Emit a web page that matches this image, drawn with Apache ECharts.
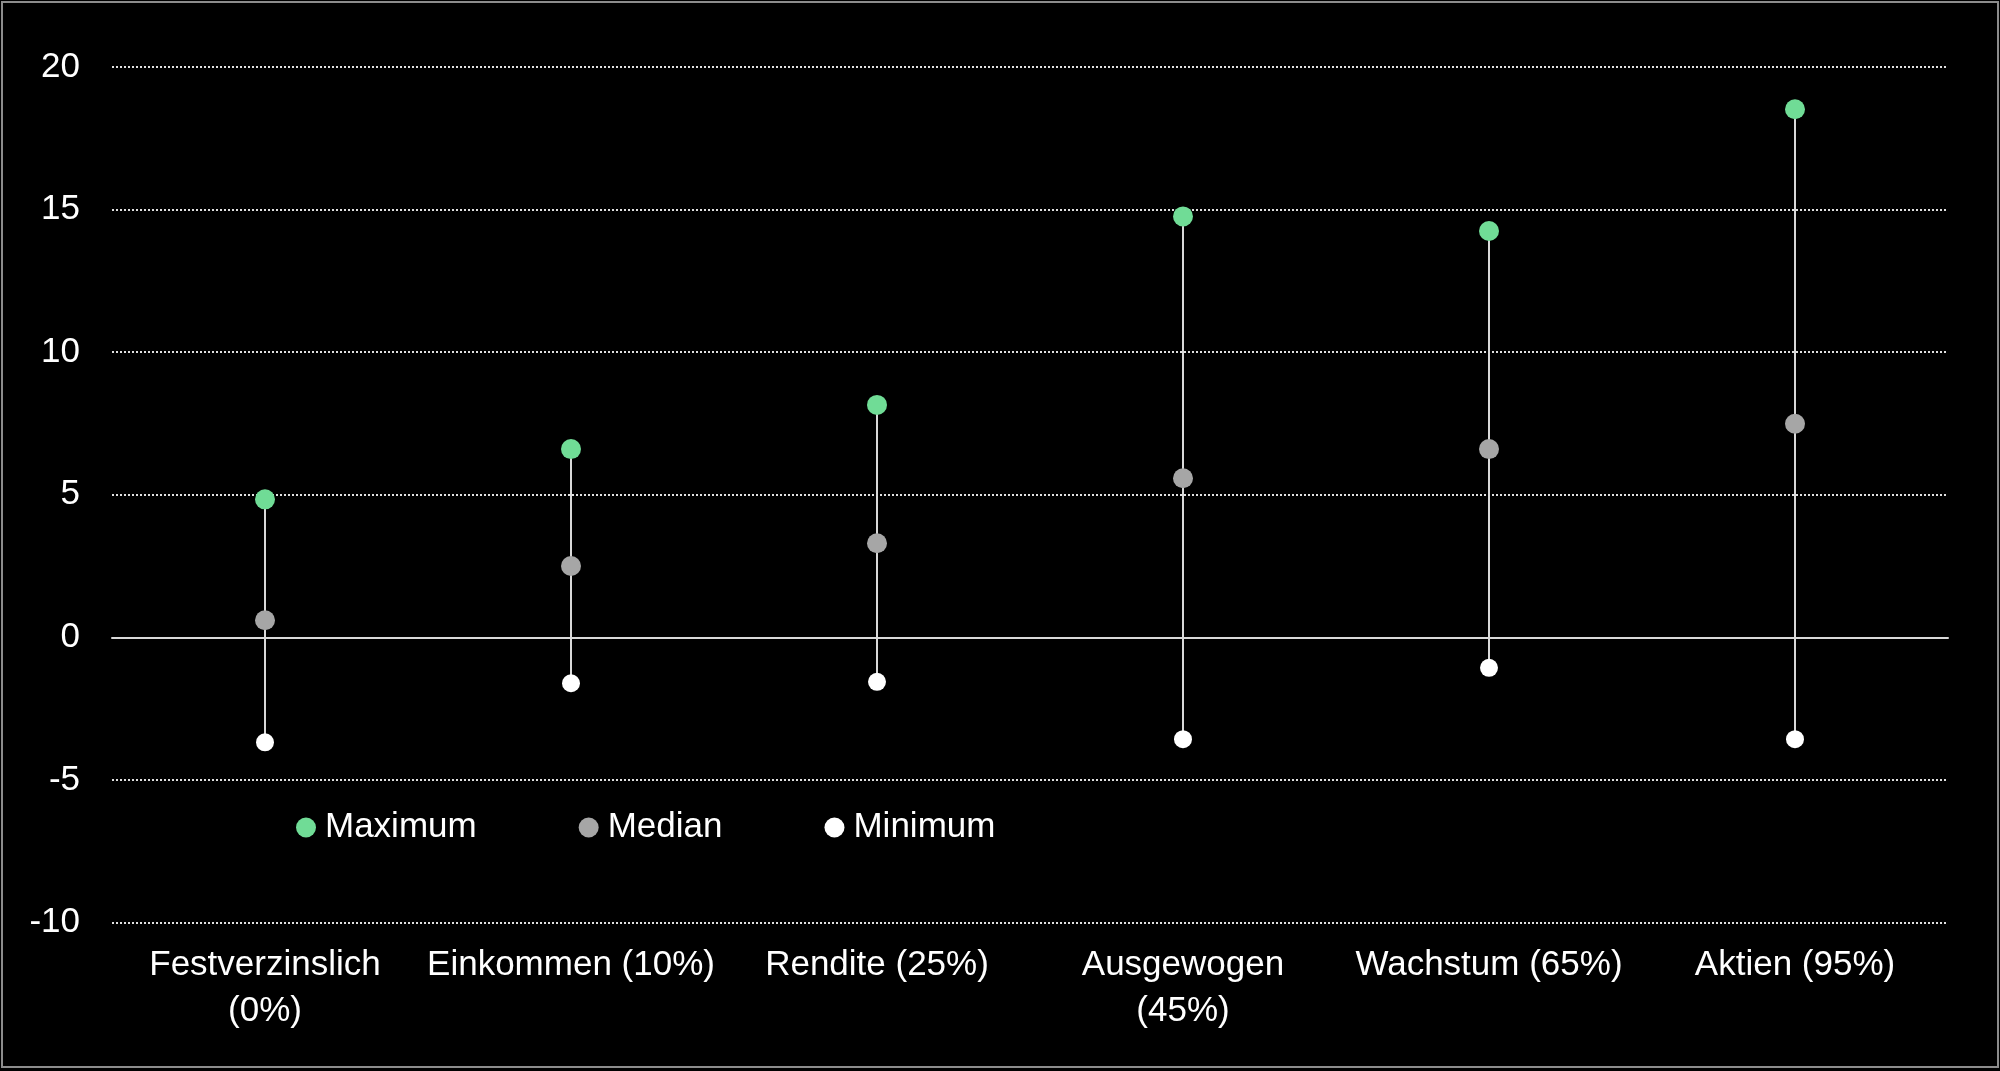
<!DOCTYPE html>
<html>
<head>
<meta charset="utf-8">
<script src="https://cdn.jsdelivr.net/npm/echarts@6/dist/echarts.min.js"></script>
<style>
html,body{margin:0;padding:0;background:#000;}
#chart{width:2000px;height:1071px;}
</style>
</head>
<body>
<div id="chart"></div>
<script>
const categories = ['Festverzinslich\n(0%)', 'Einkommen (10%)', 'Rendite (25%)', 'Ausgewogen\n(45%)', 'Wachstum (65%)', 'Aktien (95%)'];
const maxValues = [4.84, 6.60, 8.15, 14.76, 14.25, 18.52];
const medianValues = [0.60, 2.50, 3.30, 5.58, 6.60, 7.49];
const minValues = [-3.68, -1.61, -1.56, -3.57, -1.07, -3.57];
const seriesNames = ['Maximum', 'Median', 'Minimum'];

const FONT = '"Liberation Sans", Arial, sans-serif';
const chart = echarts.init(document.getElementById('chart'));
const rangeData = categories.map((c, i) => [i, minValues[i], maxValues[i]]);

chart.setOption({
  backgroundColor: '#000000',
  animation: false,
  textStyle: { fontFamily: FONT },
  graphic: [{
    type: 'rect',
    shape: { x: 2, y: 2, width: 1996, height: 1065 },
    style: { fill: 'none', stroke: '#8c8c8c', lineWidth: 2 },
    silent: true,
    z: 100
  }],
  grid: { left: 112, top: 67, width: 1836, height: 855.5, containLabel: false },
  legend: {
    data: seriesNames,
    left: 296,
    top: 807.5,
    padding: 0,
    itemGap: 102,
    itemWidth: 20,
    itemHeight: 20,
    icon: 'circle',
    textStyle: { color: '#ffffff', fontSize: 35, fontFamily: FONT, lineHeight: 40, padding: [0, 0, 0, 4] }
  },
  xAxis: {
    type: 'category',
    data: categories,
    boundaryGap: true,
    axisLine: { show: true, onZero: true, lineStyle: { color: '#d9d9d9', width: 2 } },
    axisTick: { show: false },
    axisLabel: { color: '#ffffff', fontSize: 35, fontFamily: FONT, lineHeight: 46, margin: 20, interval: 0 },
    splitLine: { show: false }
  },
  yAxis: {
    type: 'value',
    min: -10,
    max: 20,
    interval: 5,
    axisLine: { show: false },
    axisTick: { show: false },
    axisLabel: { color: '#ffffff', fontSize: 35, fontFamily: FONT, margin: 32 },
    splitLine: { show: true, lineStyle: { color: '#e0e0e0', width: 2, type: [2, 2] } }
  },
  series: [
    {
      type: 'custom',
      name: 'range',
      data: rangeData,
      encode: { x: 0, y: [1, 2] },
      silent: true,
      z: 1,
      renderItem: function (params, api) {
        const p1 = api.coord([api.value(0), api.value(1)]);
        const p2 = api.coord([api.value(0), api.value(2)]);
        return {
          type: 'line',
          shape: { x1: p1[0], y1: p1[1], x2: p2[0], y2: p2[1] },
          style: { stroke: '#d9d9d9', lineWidth: 2 }
        };
      }
    },
    {
      name: 'Maximum', type: 'scatter', data: maxValues, symbol: 'circle', symbolSize: 20, z: 3,
      itemStyle: { color: '#70dc96', opacity: 1 }
    },
    {
      name: 'Median', type: 'scatter', data: medianValues, symbol: 'circle', symbolSize: 20, z: 3,
      itemStyle: { color: '#a6a6a6', opacity: 1 }
    },
    {
      name: 'Minimum', type: 'scatter', data: minValues, symbol: 'circle', symbolSize: 18, z: 3,
      itemStyle: { color: '#ffffff', opacity: 1 }
    }
  ]
});
</script>
</body>
</html>
